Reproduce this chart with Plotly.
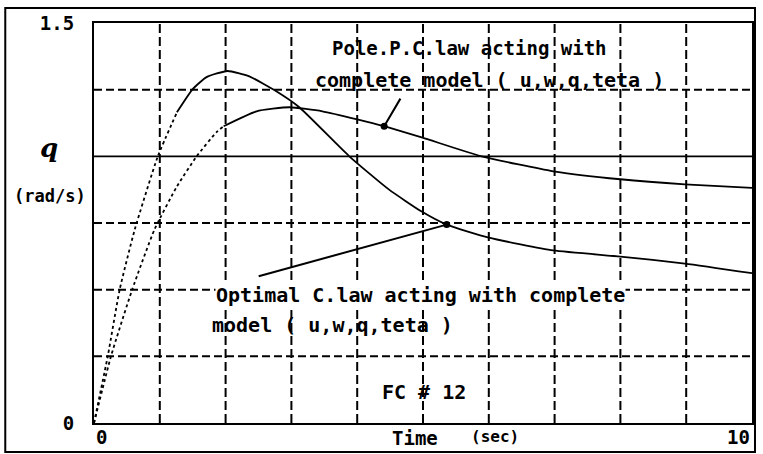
import plotly.graph_objects as go

# ---- data ----
t_opt = [0, 0.21, 0.39, 0.62, 0.97, 1.26, 1.50, 1.71, 2.03, 2.36, 2.77, 3.12, 3.88,
         4.48, 4.98, 5.36, 6.0, 6.98, 8.0, 8.98, 10.0]
q_opt = [0, 0.252, 0.50, 0.726, 1.0, 1.165, 1.252, 1.297, 1.32, 1.30, 1.244, 1.184, 1.0,
         0.876, 0.793, 0.744, 0.695, 0.647, 0.624, 0.598, 0.562]
opt_dotted_end = 5      # early part printed dotted
opt_marker_idx = 15     # point the label arrow touches

t_pole = [0, 0.26, 0.58, 0.92, 1.26, 1.56, 1.86, 1.97, 2.47, 2.97, 3.47, 4.0, 4.41,
          4.98, 5.89, 6.98, 8.0, 8.98, 10.0]
q_pole = [0, 0.252, 0.50, 0.726, 0.887, 1.0, 1.09, 1.113, 1.169, 1.184, 1.169, 1.139,
          1.113, 1.071, 1.0, 0.944, 0.914, 0.895, 0.882]
pole_dotted_end = 7
pole_marker_idx = 12

x_grid = [1, 2, 3, 4, 5, 6, 7, 8, 9]
y_grid = [0.25, 0.5, 0.75, 1.25]
ref_level = 1.0

x_tick_vals = [0, 10]
x_tick_text = ["0", "10"]
y_tick_vals = [0, 1.5]
y_tick_text = ["0", "1.5"]

label_pole = ["Pole.P.C.law acting with", "complete model ( u,w,q,teta )"]
label_opt = ["Optimal C.law acting with complete", "model ( u,w,q,teta )"]
label_fc = "FC # 12"

FONT = "DejaVu Sans Mono"

# plot-area pixel geometry
W, H = 763, 454
L, R, T, B = 94, 754, 23, 423


def px(xp):
    return (xp - L) / (R - L)


def py(yp):
    return (B - yp) / (B - T)


fig = go.Figure()

line_style = dict(color="black", width=1.8)
dot_style = dict(color="black", width=1.8, dash="3px,3px")

for t, q, k in [(t_opt, q_opt, opt_dotted_end), (t_pole, q_pole, pole_dotted_end)]:
    fig.add_trace(go.Scatter(x=t[:k + 1], y=q[:k + 1], mode="lines",
                             line=dict(**dot_style, shape="spline", smoothing=0.5),
                             hoverinfo="skip", showlegend=False))
    fig.add_trace(go.Scatter(x=t[k:], y=q[k:], mode="lines",
                             line=dict(**line_style, shape="spline", smoothing=0.5),
                             hoverinfo="skip", showlegend=False))

# marker dots where label lines meet curves
fig.add_trace(go.Scatter(x=[t_opt[opt_marker_idx], t_pole[pole_marker_idx]],
                         y=[q_opt[opt_marker_idx], q_pole[pole_marker_idx]],
                         mode="markers", marker=dict(color="black", size=7),
                         hoverinfo="skip", showlegend=False))

shapes = []
for xv in x_grid:
    shapes.append(dict(type="line", xref="x", yref="paper", x0=xv, x1=xv, y0=0, y1=1,
                       line=dict(color="black", width=2, dash="9px,4px"), layer="below"))
for yv in y_grid:
    shapes.append(dict(type="line", xref="paper", yref="y", x0=0, x1=1, y0=yv, y1=yv,
                       line=dict(color="black", width=2, dash="8px,4px"), layer="below"))
shapes.append(dict(type="line", xref="paper", yref="y", x0=0, x1=1, y0=ref_level, y1=ref_level,
                   line=dict(color="black", width=1.8), layer="below"))
# outer frame
shapes.append(dict(type="rect", xref="paper", yref="paper",
                   x0=px(5), x1=px(757), y0=py(452), y1=py(8),
                   line=dict(color="black", width=2)))

ann = []
# label arrows (tails in data coords)
ann.append(dict(x=t_pole[pole_marker_idx], y=q_pole[pole_marker_idx], xref="x", yref="y",
                ax=4.67, ay=1.222, axref="x", ayref="y", text="", showarrow=True,
                arrowhead=0, arrowwidth=2, arrowcolor="black", standoff=0))
ann.append(dict(x=t_opt[opt_marker_idx], y=q_opt[opt_marker_idx], xref="x", yref="y",
                ax=2.48, ay=0.549, axref="x", ayref="y", text="", showarrow=True,
                arrowhead=0, arrowwidth=2, arrowcolor="black", standoff=0))

bold = lambda s: "<b>" + s + "</b>"

ann.append(dict(x=px(331), y=py(48), xref="paper", yref="paper", text=bold(label_pole[0]),
                showarrow=False, xanchor="left", yanchor="middle",
                font=dict(family=FONT, size=19, color="black")))
ann.append(dict(x=px(314), y=py(80), xref="paper", yref="paper", text=bold(label_pole[1]),
                showarrow=False, xanchor="left", yanchor="middle",
                font=dict(family=FONT, size=20, color="black")))
ann.append(dict(x=px(215), y=py(295), xref="paper", yref="paper", text=bold(label_opt[0]),
                showarrow=False, xanchor="left", yanchor="middle", bgcolor="white", borderpad=0,
                font=dict(family=FONT, size=20, color="black")))
ann.append(dict(x=px(210), y=py(325), xref="paper", yref="paper", text=bold(label_opt[1]),
                showarrow=False, xanchor="left", yanchor="middle",
                font=dict(family=FONT, size=20, color="black")))
ann.append(dict(x=px(381), y=py(392), xref="paper", yref="paper", text=bold(label_fc),
                showarrow=False, xanchor="left", yanchor="middle",
                font=dict(family=FONT, size=20, color="black")))

# axis titles
ann.append(dict(x=px(49), y=py(148), xref="paper", yref="paper", text="<b><i>q</i></b>",
                showarrow=False, xanchor="center", yanchor="middle",
                font=dict(family="DejaVu Serif", size=26, color="black")))
ann.append(dict(x=px(50), y=py(196), xref="paper", yref="paper", text=bold("(rad/s)"),
                showarrow=False, xanchor="center", yanchor="middle",
                font=dict(family=FONT, size=17, color="black")))
ann.append(dict(x=px(391), y=py(438), xref="paper", yref="paper", text=bold("Time"),
                showarrow=False, xanchor="left", yanchor="middle",
                font=dict(family=FONT, size=19, color="black")))
ann.append(dict(x=px(470), y=py(436), xref="paper", yref="paper", text=bold("(sec)"),
                showarrow=False, xanchor="left", yanchor="middle",
                font=dict(family=FONT, size=16, color="black")))

# x tick labels
for v, s, anchor in zip(x_tick_vals, x_tick_text, ["left", "right"]):
    ann.append(dict(x=v, y=py(437), xref="x", yref="paper", text=bold(s), showarrow=False,
                    xanchor=anchor, yanchor="middle",
                    font=dict(family=FONT, size=19, color="black")))

fig.update_layout(
    width=W, height=H,
    margin=dict(l=L, r=W - R, t=T, b=H - B),
    paper_bgcolor="white", plot_bgcolor="white",
    shapes=shapes, annotations=ann, showlegend=False,
    xaxis=dict(range=[0, 10], showgrid=False, zeroline=False, showticklabels=False,
               ticks="", showline=True, linecolor="black", linewidth=2, mirror=True),
    yaxis=dict(range=[0, 1.5], showgrid=False, zeroline=False,
               tickmode="array", tickvals=y_tick_vals, ticktext=[bold(s) for s in y_tick_text],
               ticks="", ticklabelstandoff=14,
               tickfont=dict(family=FONT, size=19, color="black"),
               showline=True, linecolor="black", linewidth=2, mirror=True),
)

fig.write_html("out.html", config={"displayModeBar": False},
               post_script="document.body.style.margin='0';document.body.style.overflow='hidden';")
